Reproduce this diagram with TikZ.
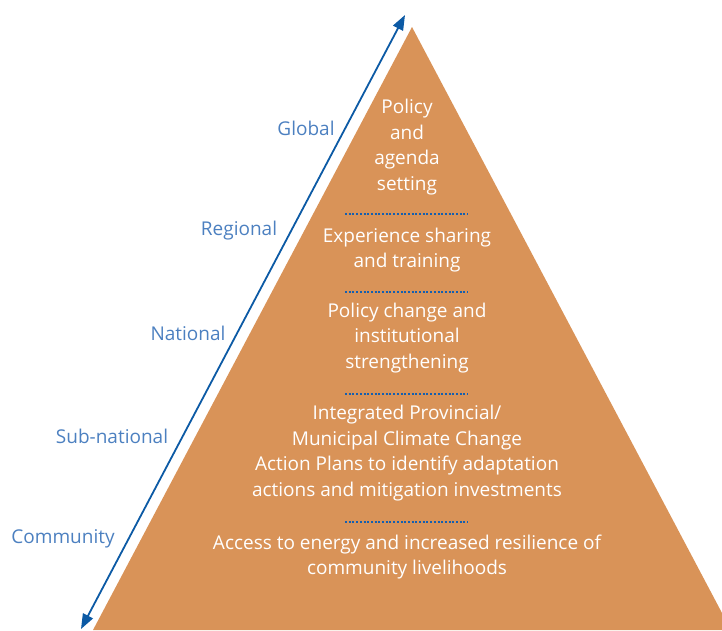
\documentclass[tikz,border=0pt]{standalone}
\usepackage{fontspec}
\setmainfont{Open Sans}
\usetikzlibrary{arrows.meta}
\definecolor{pyr}{RGB}{217,147,88}
\definecolor{arrowblue}{RGB}{12,90,165}
\definecolor{lblblue}{RGB}{76,128,192}
\definecolor{dotblue}{RGB}{20,95,175}
\tikzset{
  tier/.style={text=white, align=center, font=\fontsize{19}{25.7}\selectfont, inner sep=0pt},
  lvl/.style={text=lblblue, font=\fontsize{19}{22}\selectfont, inner sep=0pt},
  sep/.style={draw=dotblue, line width=2pt, dash pattern=on 2pt off 1.7pt},
  axis/.style={draw=arrowblue, line width=1.8pt, {Triangle[length=15pt,width=11pt]}-{Triangle[length=15pt,width=11pt]}}
}
\begin{document}
\begin{tikzpicture}[x=1pt,y=-1pt]
\useasboundingbox (0,0) rectangle (722,630);
\begin{scope}
\clip (0,0) rectangle (722,630);
\fill[pyr] (412,27) -- (731,630) -- (93,630) -- cycle;
\end{scope}
% axis
\coordinate (bot) at (81,629);
\coordinate (top) at (405,15);
\draw[axis] (bot) -- (top);
% tiers
\node[tier] (t1) at (407,147) {Policy\\and\\agenda\\setting};
\node[tier] (t2) at (407,250) {Experience sharing\\and training};
\node[tier] (t3) at (407,338) {Policy change and\\institutional\\strengthening};
\node[tier] (t4) at (407,453) {Integrated Provincial/\\Municipal Climate Change\\Action Plans to identify adaptation\\actions and mitigation investments};
\node[tier] (t5) at (407,557) {Access to energy and increased resilience of\\community livelihoods};
% separators
\coordinate (s1a) at (345,214); \coordinate (s1b) at (468,214);
\coordinate (s2a) at (345,292); \coordinate (s2b) at (468,292);
\coordinate (s3a) at (345,394); \coordinate (s3b) at (468,394);
\coordinate (s4a) at (345,522); \coordinate (s4b) at (468,522);
\draw[sep] (s1a) -- (s1b);
\draw[sep] (s2a) -- (s2b);
\draw[sep] (s3a) -- (s3b);
\draw[sep] (s4a) -- (s4b);
% levels
\node[lvl] (l1) at (306,128) {Global};
\node[lvl] (l2) at (239,231) {Regional};
\node[lvl] (l3) at (188,333) {National};
\node[lvl] (l4) at (112,436) {Sub-national};
\node[lvl] (l5) at (63,539) {Community};
\end{tikzpicture}
\end{document}
